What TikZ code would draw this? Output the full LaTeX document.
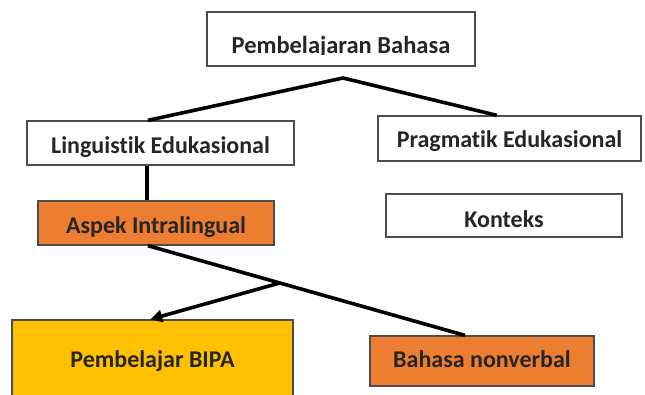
\documentclass[tikz,border=0pt]{standalone}
\usepackage{fontspec}
\setmainfont{Carlito}[Ligatures=NoCommon]
\usetikzlibrary{arrows.meta,calc}
\definecolor{orangebox}{HTML}{ED7D31}
\definecolor{goldbox}{HTML}{FFC000}
\newcommand{\lowr}[2]{\raisebox{-#1pt}{#2}}
\begin{document}
\begin{tikzpicture}[x=1pt,y=-1pt,
  boxnode/.style={draw=black!70, line width=1.3pt, fill=white, inner sep=0pt,
    font=\fontsize{24}{26}\selectfont\bfseries, text=black!85, text height=15pt, text depth=0pt},
  conn/.style={line width=3.6pt, black},
  arr/.style={line width=3.6pt, black, -{Triangle[length=12pt,width=12pt]}}]
\useasboundingbox (0,0) rectangle (645,394);
\clip (0,0) rectangle (645,394);
% boxes
\node[boxnode, minimum width=268pt, minimum height=54pt] (top) at (341,39) {};
\begin{scope}
\clip (200,0) rectangle (480,54.5);
\node[font=\fontsize{24.5}{26}\selectfont\bfseries, text=black!85, inner sep=0pt, anchor=base] (toptext) at (341,53.5) {Pembelajaran Bahasa};
\end{scope}
\node[boxnode, minimum width=267pt, minimum height=44pt] (ling) at (160.5,143) {\lowr{2.5}{Linguistik Edukasional}};
\node[boxnode, fill=orangebox, minimum width=236pt, minimum height=44pt] (aspek) at (156,223) {\lowr{2.5}{Aspek Intralingual}};
\node[boxnode, minimum width=263pt, minimum height=45pt] (prag) at (509.5,138.5) {\lowr{1}{Pragmatik Edukasional}};
\node[boxnode, fill=goldbox, minimum width=281pt, minimum height=80pt] (bipa) at (152.5,360) {Pembelajar BIPA};
\node[boxnode, minimum width=236pt, minimum height=43pt] (kont) at (504,215.5) {\lowr{4}{Konteks}};
\node[boxnode, fill=orangebox, minimum width=224pt, minimum height=50pt] (nonv) at (482,361) {\lowr{-1}{Bahasa nonverbal}};
% connectors
\coordinate (j) at (343,78);
\coordinate (vx) at (147,183);
\draw[conn, line join=miter] ($(ling.north west)!0.453!(ling.north east)$) -- (j) -- ($(prag.north west)!0.452!(prag.north east)$);
\draw[conn] (ling.south -| vx) -- (aspek.north -| vx);
\draw[conn] ($(aspek.south west)!0.466!(aspek.south east)$) coordinate (as) -- ($(nonv.north west)!0.424!(nonv.north east)$) coordinate (nt);
\coordinate (br) at ($(as)!0.416!(nt)$);
\draw[arr] (br) -- ($(bipa.north west)!0.492!(bipa.north east)$);
\end{tikzpicture}
\end{document}
